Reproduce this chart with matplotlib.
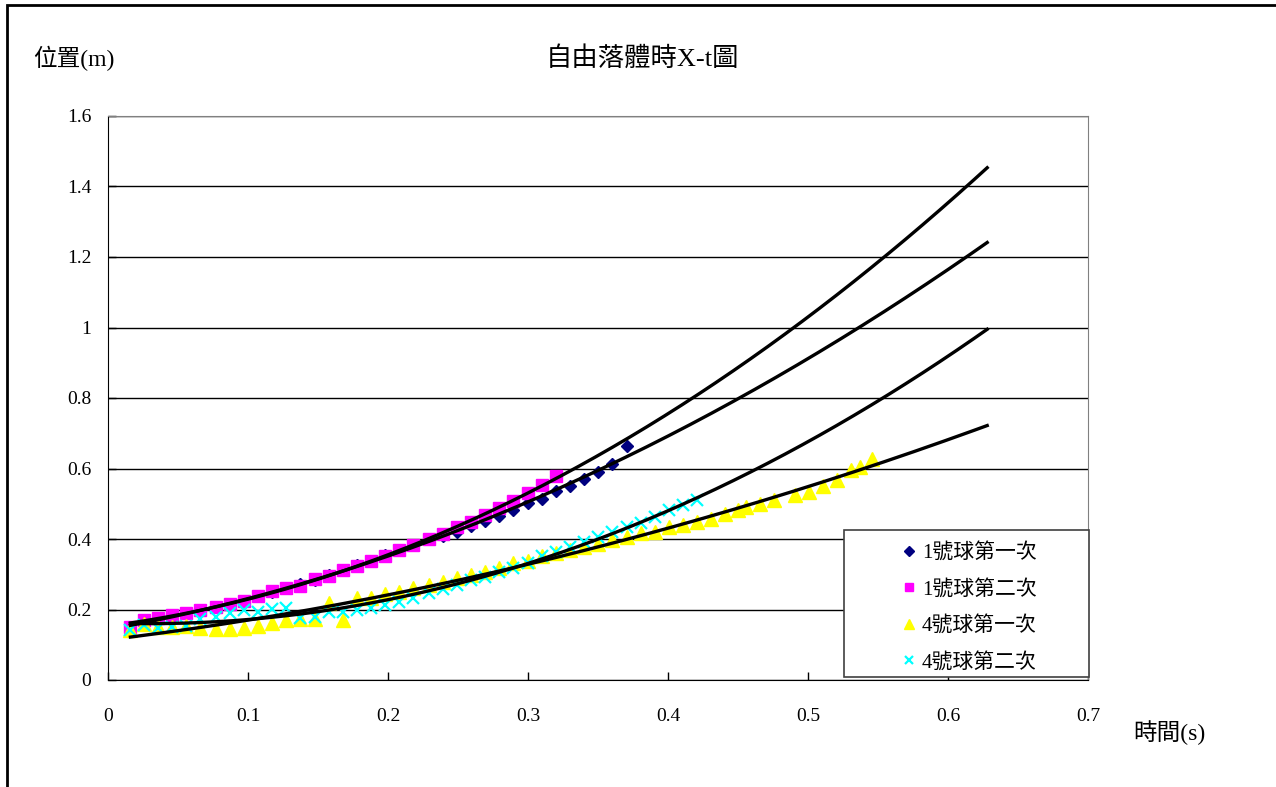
import numpy as np
import matplotlib.pyplot as plt
from matplotlib.patches import Rectangle

FONTS = ['Liberation Serif', 'Noto Sans CJK TC']
plt.rcParams['font.family'] = FONTS

# frame times (s), shared by all runs
t_frames = [0.016, 0.026, 0.036, 0.046, 0.056, 0.066, 0.077, 0.087, 0.097, 0.107,
            0.117, 0.127, 0.137, 0.148, 0.158, 0.168, 0.178, 0.188, 0.198, 0.208,
            0.218, 0.229, 0.239, 0.249, 0.259, 0.269, 0.279, 0.289, 0.300, 0.310,
            0.320, 0.330, 0.340, 0.350, 0.360, 0.371, 0.381, 0.391, 0.401, 0.411,
            0.421, 0.431, 0.441]
# extra frames at the end of ball 4, run 1
t_ball4_run1_tail = [0.450, 0.456, 0.466, 0.476, 0.491, 0.501, 0.511, 0.521, 0.531, 0.537, 0.546]

# positions (m)
x_ball1_run1 = [0.150, 0.163, 0.172, 0.180, 0.189, 0.198, 0.207, 0.216, 0.225, 0.238,
                0.250, 0.260, 0.271, 0.285, 0.297, 0.312, 0.325, 0.339, 0.354, 0.369,
                0.384, 0.400, 0.408, 0.419, 0.437, 0.450, 0.465, 0.482, 0.501, 0.513,
                0.536, 0.550, 0.569, 0.589, 0.612, 0.665]
x_ball1_run2 = [0.151, 0.170, 0.177, 0.184, 0.191, 0.200, 0.208, 0.216, 0.224, 0.238,
                0.252, 0.260, 0.268, 0.286, 0.295, 0.313, 0.323, 0.337, 0.352, 0.368,
                0.383, 0.399, 0.413, 0.433, 0.449, 0.468, 0.487, 0.508, 0.531, 0.553,
                0.579]
x_ball4_run1 = [0.143, 0.158, 0.150, 0.150, 0.152, 0.147, 0.146, 0.145, 0.148, 0.152,
                0.163, 0.170, 0.173, 0.172, 0.218, 0.170, 0.234, 0.233, 0.244, 0.251,
                0.260, 0.270, 0.279, 0.289, 0.298, 0.307, 0.319, 0.331, 0.338, 0.352,
                0.359, 0.369, 0.376, 0.387, 0.397, 0.407, 0.416, 0.421, 0.433, 0.440,
                0.449, 0.458, 0.470,
                0.482, 0.492, 0.499, 0.511, 0.525, 0.534, 0.550, 0.567, 0.596, 0.605, 0.626]
x_ball4_run2 = [0.143, 0.155, 0.148, 0.150, 0.152, 0.172, 0.180, 0.190, 0.199, 0.193,
                0.202, 0.203, 0.177, 0.180, 0.193, 0.192, 0.200, 0.205, 0.213, 0.222,
                0.232, 0.246, 0.257, 0.270, 0.284, 0.293, 0.307, 0.317, 0.331, 0.352,
                0.364, 0.378, 0.392, 0.407, 0.421, 0.433, 0.446, 0.462, 0.482, 0.496,
                0.511]

labels = ['1號球第一次', '1號球第二次', '4號球第一次', '4號球第二次']
T_END = 0.628  # trendlines projected forward to here

series = [
    (t_frames[:len(x_ball1_run1)], x_ball1_run1, dict(marker='D', color='#000080', ms=6.5, ls='none')),
    (t_frames[:len(x_ball1_run2)], x_ball1_run2, dict(marker='s', color='#ff00ff', ms=8.5, ls='none')),
    (t_frames + t_ball4_run1_tail, x_ball4_run1, dict(marker='^', color='#ffff00', ms=10, ls='none')),
    (t_frames[:len(x_ball4_run2)], x_ball4_run2, dict(marker='x', color='#00ffff', ms=8.5, mew=1.6, ls='none')),
]

W, H = 1276, 787
fig = plt.figure(figsize=(W / 100, H / 100), dpi=100)
ax = fig.add_axes([108 / W, 1 - 680 / H, 980 / W, 564 / H])

handles = []
for (t, x, style), lab in zip(series, labels):
    h, = ax.plot(t, x, label=lab, zorder=3, **style)
    handles.append(h)

# 2nd order polynomial trendlines
for t, x, _ in series:
    coef = np.polyfit(t, x, 2)
    tt = np.linspace(t[0], T_END, 200)
    ax.plot(tt, np.polyval(coef, tt), color='black', lw=2.4, zorder=4)

ax.set_xlim(0, 0.7)
ax.set_ylim(0, 1.6)
ax.set_xticks(np.arange(0, 0.71, 0.1))
ax.set_yticks(np.arange(0, 1.61, 0.2))
ax.set_xticklabels(['0', '0.1', '0.2', '0.3', '0.4', '0.5', '0.6', '0.7'])
ax.set_yticklabels(['0', '0.2', '0.4', '0.6', '0.8', '1', '1.2', '1.4', '1.6'])
ax.tick_params(direction='in', length=6, width=1, labelsize=14)
ax.tick_params(axis='x', pad=20)
ax.tick_params(axis='y', pad=12)
ax.yaxis.grid(True, color='#000000', lw=1)
ax.set_axisbelow(True)
for s in ('top', 'right'):
    ax.spines[s].set_color('#808080')
for s in ('left', 'bottom'):
    ax.spines[s].set_color('black')

fig.text(643 / W, 1 - 58 / H, '自由落體時X-t圖', ha='center', va='center', fontsize=19)
fig.text(33 / W, 1 - 58 / H, '位置(m)', ha='left', va='center', fontsize=17)
fig.text(1133 / W, 1 - 733 / H, '時間(s)', ha='left', va='center', fontsize=17)

# legend box, entries placed inside it
fig.patches.append(Rectangle((844 / W, 1 - 677 / H), 245 / W, 147 / H, transform=fig.transFigure,
                             facecolor='white', edgecolor='#404040', lw=1.2, zorder=5))
leg = fig.legend(handles=handles, loc='upper left', bbox_to_anchor=(899 / W, 1 - 543 / H),
                 frameon=False, fontsize=15, markerscale=0.75,
                 handlelength=1.0, handletextpad=0.1, labelspacing=0.8,
                 borderpad=0, borderaxespad=0)
leg.set_zorder(6)

# outer chart border
fig.patches.append(Rectangle((7 / W, -0.05), 1.1, 1 - 5 / H + 0.05, transform=fig.transFigure,
                             fill=False, edgecolor='black', lw=2))

fig.savefig('out.png', dpi=100)
